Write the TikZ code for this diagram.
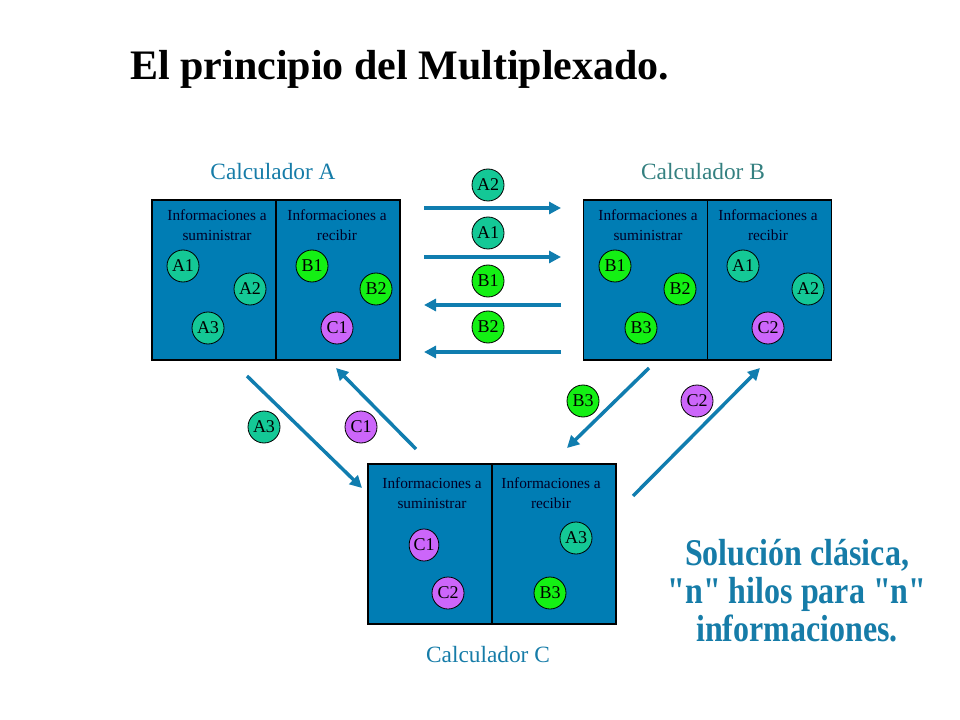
\documentclass[tikz,border=0pt]{standalone}
\usepackage{fontspec}
\setmainfont{Liberation Serif}
\newfontfamily\qfont{Liberation Serif}[Ligatures=TeXOff]
\usetikzlibrary{arrows.meta,shapes.geometric}
\definecolor{boxblue}{RGB}{0,125,180}
\definecolor{arrblue}{RGB}{16,125,175}
\definecolor{labblue}{RGB}{22,124,168}
\definecolor{labteal}{RGB}{52,128,128}
\definecolor{cteal}{RGB}{20,200,150}
\definecolor{cgreen}{RGB}{20,240,20}
\definecolor{cpurple}{RGB}{204,102,250}
\newcommand\dq{{\qfont\bfseries"}}
\tikzset{
  box/.style={draw=black, line width=0.8pt, fill=boxblue, minimum width=186pt, minimum height=120pt, inner sep=0pt},
  infotxt/.style={font=\fontsize{11.5pt}{15pt}\selectfont, align=center, text=black!85!blue, inner sep=0pt},
  tok/.style={circle, draw=black, line width=0.6pt, minimum size=24pt, inner sep=0pt, font=\fontsize{13.5pt}{14pt}\selectfont},
  ta/.style={tok, fill=cteal},
  tb/.style={tok, fill=cgreen},
  tc/.style={tok, fill=cpurple},
  flow/.style={draw=arrblue, line width=2.6pt, -{Triangle[length=9pt,width=9pt]}},
  calc/.style={font=\fontsize{17.5pt}{19pt}\selectfont, inner sep=0pt}
}
\begin{document}
\begin{tikzpicture}[x=0.75pt,y=-0.75pt]
\useasboundingbox (0,0) rectangle (960,720);
% title
\node[anchor=base west, font=\bfseries\fontsize{31.5pt}{34pt}\selectfont, inner sep=0pt] (title) at (130,80) {El principio del Multiplexado.};
% boxes
\node[box] (bA) at (276,280) {};
\node[box] (bB) at (707.5,280) {};
\node[box] (bC) at (492,544) {};
\draw[line width=0.8pt] (bA.north) -- (bA.south);
\draw[line width=0.8pt] (bB.north) -- (bB.south);
\draw[line width=0.8pt] (bC.north) -- (bC.south);
% box labels
\node[calc, text=labblue] (cA) at (273,172) {Calculador A};
\node[calc, text=labteal] (cB) at (703,172) {Calculador B};
\node[calc, text=labblue] (cC) at (488,655) {Calculador C};
% info texts
\node[infotxt] (iA1) at (217,225) {Informaciones a\\suministrar};
\node[infotxt] (iA2) at (337,225) {Informaciones a\\recibir};
\node[infotxt] (iB1) at (648,225) {Informaciones a\\suministrar};
\node[infotxt] (iB2) at (768,225) {Informaciones a\\recibir};
\node[infotxt] (iC1) at (432,493) {Informaciones a\\suministrar};
\node[infotxt] (iC2) at (551,493) {Informaciones a\\recibir};
% tokens in A
\node[ta] (aA1) at (183,266) {A1};
\node[ta] (aA2) at (250,289) {A2};
\node[ta] (aA3) at (208,328) {A3};
\node[tb] (aB1) at (312,266) {B1};
\node[tb] (aB2) at (376,289) {B2};
\node[tc] (aC1) at (337,328) {C1};
% tokens in B
\node[tb] (bB1) at (615,266) {B1};
\node[tb] (bB2) at (680,289) {B2};
\node[tb] (bB3) at (641,328) {B3};
\node[ta] (bA1) at (743,266) {A1};
\node[ta] (bA2) at (808,289) {A2};
\node[tc] (bC2) at (768,328) {C2};
% tokens in C
\node[tc, ellipse, minimum width=21pt, minimum height=24pt] (cC1) at (424,545) {C1};
\node[tc] (cC2) at (448,593) {C2};
\node[ta] (cA3) at (576,538) {A3};
\node[tb] (cB3) at (550,593) {B3};
% middle tokens
\node[ta] (mA2) at (488,185) {A2};
\node[ta] (mA1) at (488,233) {A1};
\node[tb] (mB1) at (488,281) {B1};
\node[tb] (mB2) at (488,327) {B2};
% middle arrows
\coordinate (h1l) at (424,208); \coordinate (h1r) at (561,208);
\coordinate (h2l) at (424,257); \coordinate (h2r) at (561,257);
\coordinate (h3l) at (424,305); \coordinate (h3r) at (561,305);
\coordinate (h4l) at (424,352); \coordinate (h4r) at (561,352);
\draw[flow] (h1l) -- (h1r);
\draw[flow] (h2l) -- (h2r);
\draw[flow] (h3r) -- (h3l);
\draw[flow] (h4r) -- (h4l);
% diagonal arrows
\coordinate (d1s) at (247,376); \coordinate (d1e) at (362,488);
\coordinate (d2s) at (416,449); \coordinate (d2e) at (336,368);
\coordinate (d3s) at (649,368); \coordinate (d3e) at (567,448);
\coordinate (d4s) at (633,496); \coordinate (d4e) at (760,368);
\draw[flow] (d1s) -- (d1e);
\draw[flow] (d2s) -- (d2e);
\draw[flow] (d3s) -- (d3e);
\draw[flow] (d4s) -- (d4e);
% diagonal tokens
\node[ta] (dA3) at (264,427) {A3};
\node[tc] (dC1) at (361,427) {C1};
\node[tb] (dB3) at (583,401) {B3};
\node[tc] (dC2) at (697,401) {C2};
% side text
\node[text=labblue, font=\bfseries\fontsize{24pt}{23.8pt}\selectfont, inner sep=0pt] (sol) at (797,596)
  {\scalebox{1}[1.18]{\begin{tabular}{@{}c@{}}Solución clásica,\\\dq n\dq{} hilos para \dq n\dq\\informaciones.\end{tabular}}};
\end{tikzpicture}
\end{document}
